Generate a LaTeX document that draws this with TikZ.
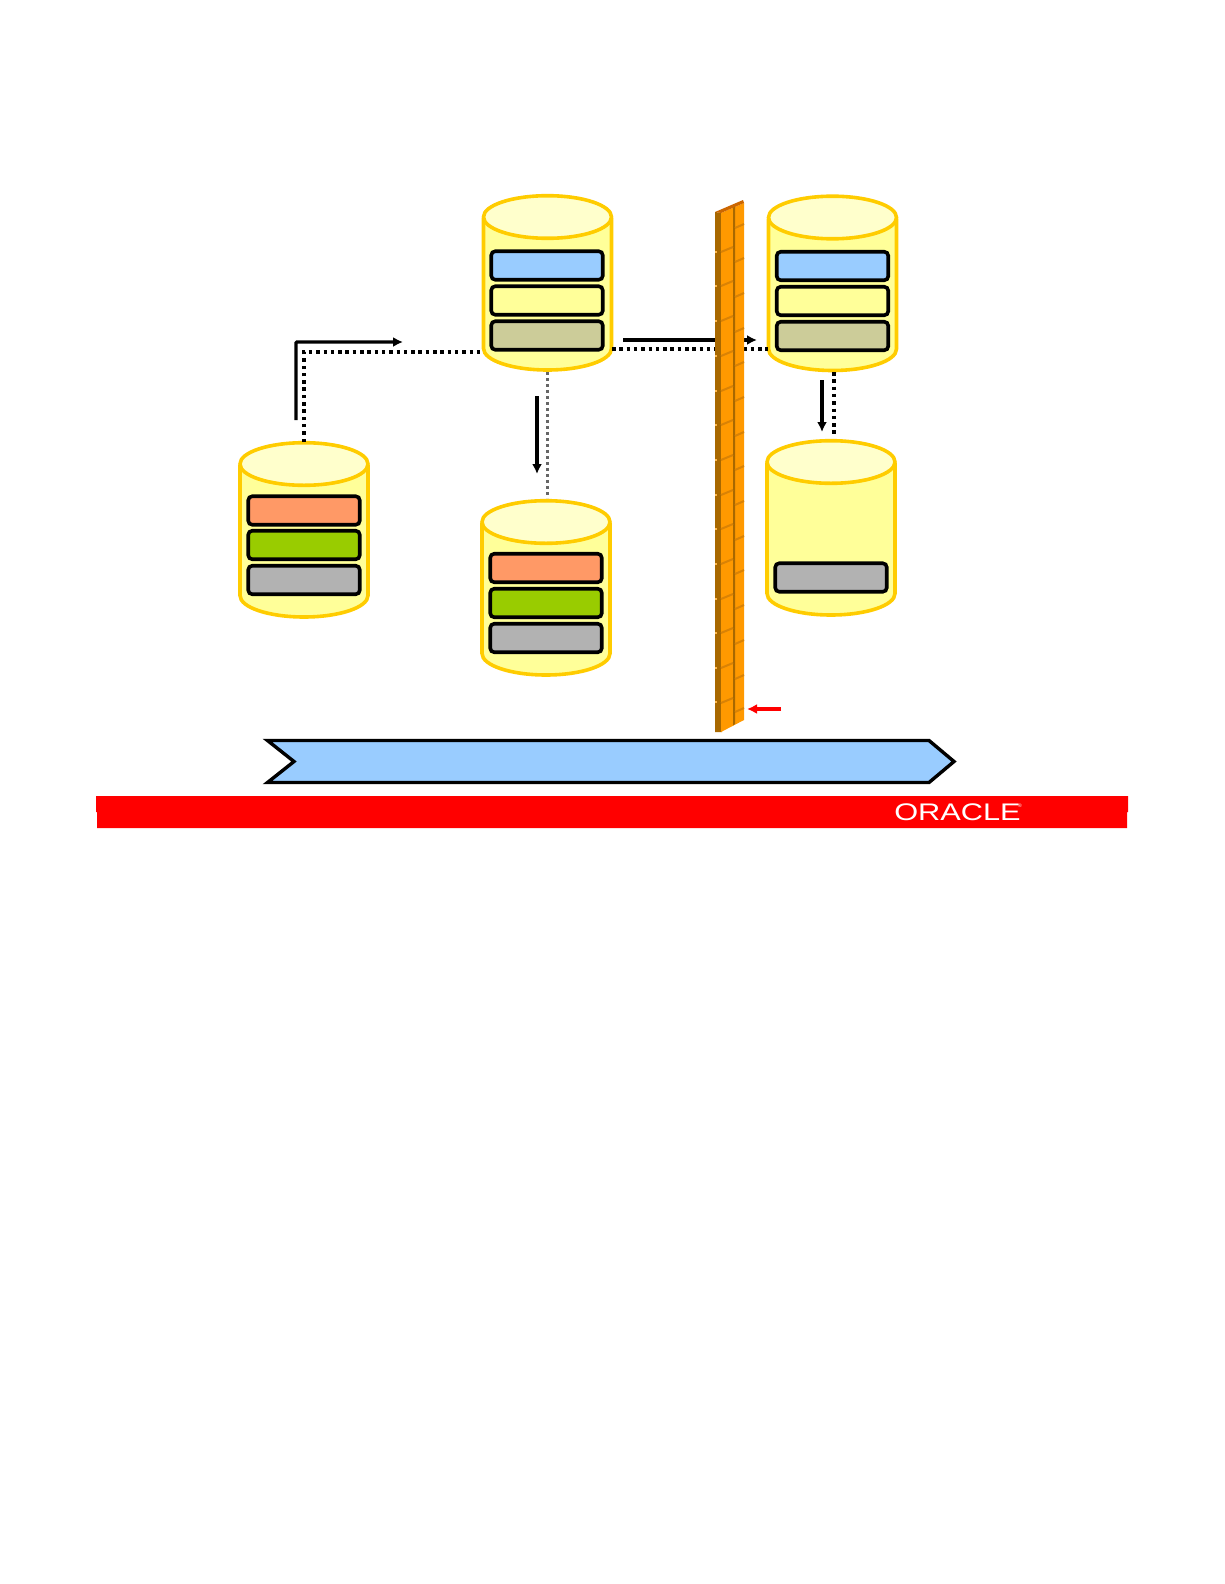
\documentclass[tikz,border=0pt]{standalone}
\usepackage{fontspec}
\setmainfont{Liberation Sans}
\usetikzlibrary{arrows.meta}
\definecolor{rim}{HTML}{FFCC00}
\definecolor{cylbody}{HTML}{FFFF99}
\definecolor{cyltop}{HTML}{FFFFCC}
\definecolor{sblue}{HTML}{99CCFF}
\definecolor{stan}{HTML}{CCCC99}
\definecolor{sorange}{HTML}{FF9966}
\definecolor{sgreen}{HTML}{99CC00}
\definecolor{sgray}{HTML}{B2B2B2}
\definecolor{wallface}{HTML}{FF9900}
\definecolor{wallside}{HTML}{A86800}
\definecolor{wallcap}{HTML}{CC6600}
\definecolor{mortar}{HTML}{D98205}
\tikzset{
  cylrim/.style={draw=rim,line width=3.6pt},
  stripbox/.style={draw=black,line width=3.6pt,rounded corners=4pt,minimum width=111.5pt,minimum height=28.5pt,inner sep=0pt,outer sep=0pt},
  anchorbox/.style={minimum width=128pt,minimum height=174pt,inner sep=0pt,outer sep=0pt},
  flow/.style={line width=3.4pt,-{Latex[length=10pt,width=10pt]}},
  dotline/.style={line width=4pt,dash pattern=on 3.5pt off 3.8pt,black},
  thindot/.style={line width=2.4pt,dash pattern=on 3pt off 3pt,black!60},
}
% name, centre x, top y
\newcommand{\drum}[3]{%
  \fill[cylbody] (#2-64,#3+24) -- (#2-64,#3+154.5) arc[x radius=64,y radius=-21.5,start angle=180,end angle=360] -- (#2+64,#3+24) -- cycle;
  \draw[cylrim] (#2-64,#3+24) -- (#2-64,#3+154.5) arc[x radius=64,y radius=-21.5,start angle=180,end angle=360] -- (#2+64,#3+24);
  \draw[cylrim,fill=cyltop] (#2,#3+23) ellipse[x radius=64,y radius=21.3];
  \node[anchorbox] (#1) at (#2,#3+88) {};
}
\newcommand{\strip}[4]{\node[stripbox,fill=#4] (#1) at (#2,#3) {};}
\begin{document}
\begin{tikzpicture}[x=1pt,y=-1pt]
\useasboundingbox (0,0) rectangle (1224,1584);
\fill[white] (0,0) rectangle (1224,1584);

% cylinders
\drum{src}{304}{441}
\drum{mid}{547.5}{194}
\drum{midlow}{546}{499}
\drum{rgt}{832.5}{194.5}
\drum{rgtlow}{831}{439}

% strips
\strip{srcA}{304}{510.5}{sorange}
\strip{srcB}{304}{545}{sgreen}
\strip{srcC}{304}{580}{sgray}
\strip{midA}{547}{265.5}{sblue}
\strip{midB}{547}{300.5}{cylbody}
\strip{midC}{547}{335.5}{stan}
\strip{lowA}{546}{568}{sorange}
\strip{lowB}{546}{603}{sgreen}
\strip{lowC}{546}{638}{sgray}
\strip{rgtA}{832.5}{266}{sblue}
\strip{rgtB}{832.5}{301}{cylbody}
\strip{rgtC}{832.5}{336}{stan}
\strip{rlowC}{831}{577.5}{sgray}

% anchors for connector ends
\coordinate (bendD) at (304,352);
\coordinate (midW) at (483,352);
\coordinate (midE) at (612,349);
\coordinate (rgtW) at (768,349);
\coordinate (fa) at (296,420);
\coordinate (fb) at (296,342);
\coordinate (fc) at (403,342);
\coordinate (ga) at (623,340);
\coordinate (gb) at (757,340);
\coordinate (ha) at (537,396);
\coordinate (hb) at (537,474);
\coordinate (ia) at (822,380);
\coordinate (ib) at (822,432);
\coordinate (midS) at (547.5,372);
\coordinate (lowN) at (547.5,498);
\coordinate (rgtS) at (834,372);
\coordinate (rlowN) at (834,437);
\coordinate (srcN) at (304,442);

% connectors
\draw[dotline] (srcN) -- (bendD) -- (midW);
\draw[dotline] (midE) -- (rgtW);
\draw[thindot] (midS) -- (lowN);
\draw[dotline] (rgtS) -- (rlowN);
\draw[flow,rounded corners=1pt] (fa) -- (fb) -- (fc);
\draw[flow] (ga) -- (gb);
\draw[flow] (ha) -- (hb);
\draw[flow] (ia) -- (ib);

% brick wall
\fill[wallside] (715,212) -- (722,213) -- (722,732) -- (715,732) -- cycle;
\fill[wallface] (721,213) -- (744,203) -- (744,720) -- (721,732) -- cycle;
\fill[wallcap] (715,212) -- (743,200) -- (744,203) -- (721,213) -- cycle;
\fill[wallside] (733,207.5) -- (735,206.5) -- (735,724) -- (733,725.5) -- cycle;
\foreach \y in {247,281,316,351,386,420,455,490,524,559,594,628,663,698}
  \draw[mortar,line width=2pt] (721,\y+5) -- (733,\y);
\foreach \y in {224,258,293,328,362,397,432,466,501,536,570,605,640,675,708}
  \draw[mortar,line width=2pt] (735,\y+4) -- (744,\y);
\foreach \y in {247,281,316,351,386,420,455,490,524,559,594,628,663,697}
  \fill[wallface!70!white] (715,\y+4) rectangle (717,\y+6);

% red pointer
\coordinate (pa) at (781,709);
\coordinate (pb) at (747,709);
\draw[red,line width=3.4pt,-{Latex[length=10pt,width=10pt]}] (pa) -- (pb);

% timeline chevron
\draw[fill=sblue,line width=3.4pt,draw=black,line join=miter]
  (267.5,740.5) -- (929,740.5) -- (954,761.5) -- (929,782.5) -- (267.5,782.5) -- (294,761.5) -- cycle;

% footer bar
\fill[red] (96,796) -- (1128,796) -- (1128,812) -- (1127,812) -- (1127,828) -- (97,828) -- (97,812) -- (96,812) -- cycle;
\node[anchor=west,inner sep=0pt,text=white,font=\fontsize{24}{24}\selectfont,xscale=1.28] (logo) at (894,812.5) {ORACLE};
\node[anchor=west,inner sep=0pt,text=white,font=\fontsize{5}{5}\selectfont] (reg) at (1018,806) {®};
\end{tikzpicture}
\end{document}
